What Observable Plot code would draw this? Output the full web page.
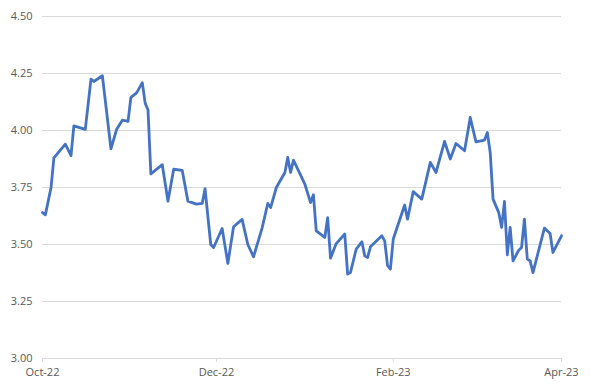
<!DOCTYPE html>
<html>
<head>
<meta charset="utf-8">
<script src="https://cdn.jsdelivr.net/npm/d3@7"></script>
<script src="https://cdn.jsdelivr.net/npm/@observablehq/plot@0.6"></script>
<style>
  html, body { margin: 0; padding: 0; background: #fff; }
  #chart svg { display: block; }
</style>
</head>
<body>
<div id="chart"></div>
<script>
const dates = [
  "2022-10-01","2022-10-02","2022-10-04","2022-10-05","2022-10-09","2022-10-11","2022-10-12","2022-10-16",
  "2022-10-18","2022-10-19","2022-10-22","2022-10-25","2022-10-27","2022-10-29","2022-10-31",
  "2022-11-01","2022-11-03","2022-11-05","2022-11-06","2022-11-07","2022-11-08","2022-11-12","2022-11-14",
  "2022-11-16","2022-11-19","2022-11-21","2022-11-24","2022-11-26","2022-11-27","2022-11-29","2022-11-30",
  "2022-12-03","2022-12-05","2022-12-07","2022-12-10","2022-12-12","2022-12-14","2022-12-17","2022-12-19",
  "2022-12-20","2022-12-22","2022-12-25","2022-12-26","2022-12-27","2022-12-28",
  "2023-01-01","2023-01-03","2023-01-04","2023-01-05","2023-01-08","2023-01-09","2023-01-10","2023-01-12",
  "2023-01-15","2023-01-16","2023-01-17","2023-01-19","2023-01-21","2023-01-22","2023-01-23","2023-01-24",
  "2023-01-28","2023-01-29","2023-01-30","2023-01-31",
  "2023-02-01","2023-02-05","2023-02-06","2023-02-08","2023-02-11","2023-02-14","2023-02-16","2023-02-19",
  "2023-02-21","2023-02-23","2023-02-26","2023-02-28",
  "2023-03-02","2023-03-05","2023-03-06","2023-03-07","2023-03-08","2023-03-10","2023-03-11","2023-03-12",
  "2023-03-13","2023-03-14","2023-03-15","2023-03-17","2023-03-18","2023-03-19","2023-03-20","2023-03-21",
  "2023-03-22","2023-03-26","2023-03-28","2023-03-29","2023-04-01"
];
const values = [
  3.64, 3.63, 3.75, 3.88, 3.94, 3.89, 4.02, 4.005,
  4.225, 4.215, 4.24, 3.92, 4.005, 4.045, 4.04,
  4.145, 4.165, 4.21, 4.12, 4.09, 3.81, 3.85, 3.69,
  3.83, 3.825, 3.69, 3.677, 3.68, 3.745, 3.50, 3.487,
  3.57, 3.417, 3.578, 3.61, 3.50, 3.446, 3.572, 3.68,
  3.662, 3.75, 3.816, 3.882, 3.816, 3.87,
  3.765, 3.684, 3.718, 3.56, 3.531, 3.618, 3.44, 3.504,
  3.546, 3.37, 3.377, 3.48, 3.512, 3.45, 3.443, 3.49,
  3.538, 3.516, 3.407, 3.392,
  3.524, 3.673, 3.611, 3.732, 3.699, 3.86, 3.816, 3.952,
  3.875, 3.943, 3.911, 4.057,
  3.95, 3.958, 3.991, 3.903, 3.699, 3.64, 3.575, 3.689,
  3.455, 3.575, 3.428, 3.475, 3.487, 3.611, 3.436, 3.428,
  3.377, 3.572, 3.548, 3.465, 3.538
];
const xTicks = ["2022-10-01", "2022-12-01", "2023-02-01", "2023-04-01"];
const yTicks = [3.00, 3.25, 3.50, 3.75, 4.00, 4.25, 4.50];

const data = dates.map((d, i) => ({date: new Date(d), value: values[i]}));

const chart = Plot.plot({
  width: 590,
  height: 390,
  marginLeft: 42,
  marginRight: 29,
  marginTop: 16,
  marginBottom: 32,
  style: {fontFamily: "'Open Sans', 'Liberation Sans', sans-serif", fontSize: "11px", color: "#595959", background: "#fff"},
  x: {type: "utc", domain: [new Date(xTicks[0]), new Date(xTicks[xTicks.length - 1])]},
  y: {domain: [3, 4.5]},
  marks: [
    Plot.gridY(yTicks, {stroke: "#d9d9d9", strokeOpacity: 1, strokeWidth: 1}),
    Plot.axisY(yTicks, {tickSize: 0, tickPadding: 10, tickFormat: d3.format(".2f"), fill: "#595959", label: null}),
    Plot.axisX(xTicks.map(d => new Date(d)), {tickSize: 4, tickPadding: 6, stroke: "#d9d9d9", fill: "#595959", tickFormat: d3.utcFormat("%b-%y"), label: null}),
    Plot.lineY(data, {x: "date", y: "value", stroke: "#4472C4", strokeWidth: 2.8, strokeLinejoin: "round", strokeLinecap: "round"})
  ]
});
document.getElementById("chart").appendChild(chart);
</script>
</body>
</html>
